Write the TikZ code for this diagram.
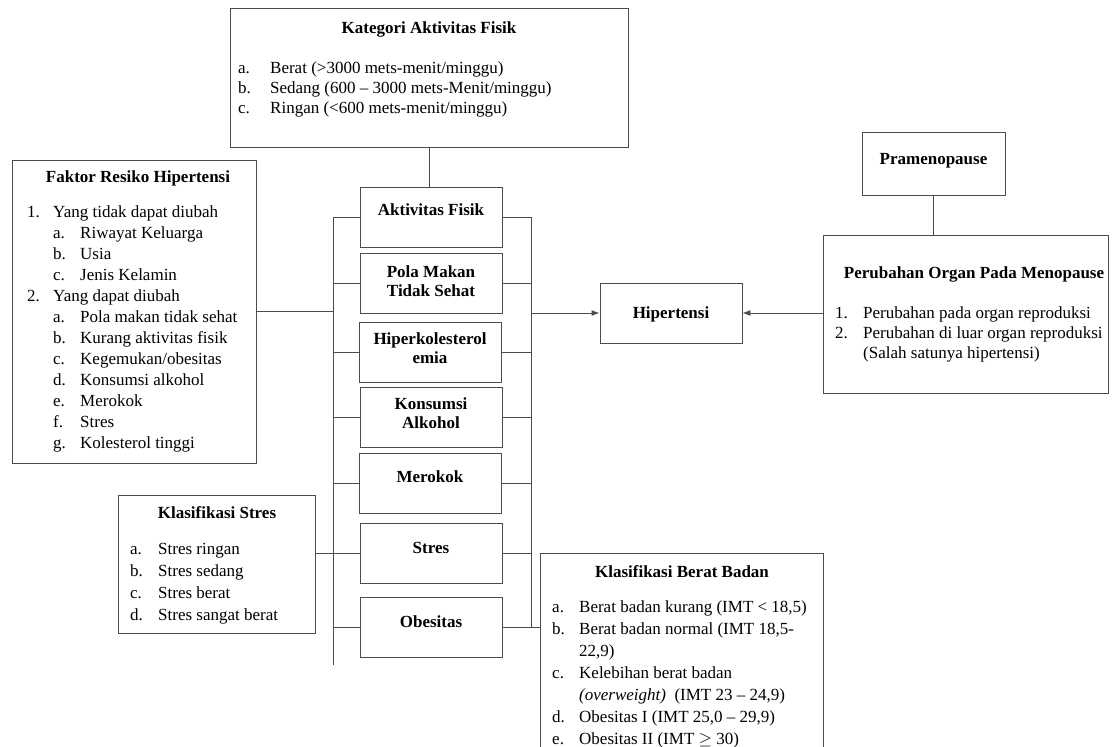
\documentclass[tikz,border=0pt]{standalone}
\usepackage{fontspec}
\setmainfont{Liberation Serif}
\usetikzlibrary{arrows.meta}
\begin{document}
\begin{tikzpicture}[x=1pt,y=-1pt,
  bx/.style={draw=black!70,line width=0.9pt,inner sep=0pt,minimum width=142pt,minimum height=60pt},
  ttl/.style={font=\fontsize{17}{20}\selectfont\bfseries,anchor=base,inner sep=0pt},
  ttl2/.style={font=\fontsize{17}{19}\selectfont\bfseries,anchor=center,inner sep=0pt,align=center},
  lst/.style={anchor=base west,inner sep=0pt,font=\fontsize{17}{20}\selectfont},
  con/.style={draw=black!70,line width=0.9pt},
  arr/.style={con,-{Latex[length=8pt,width=6pt]}}]
\useasboundingbox (0,0) rectangle (1112,747);
\setlength{\tabcolsep}{0pt}
% boxes
\node[bx,minimum width=398pt,minimum height=139pt] (kat) at (429,77.5) {};
\node[bx,minimum width=244pt,minimum height=303pt] (fak) at (134,311.5) {};
\node[bx] (akt) at (431,217) {};
\node[bx] (pola) at (431,283) {};
\node[bx] (hiper) at (430,352) {};
\node[bx] (kons) at (431,417) {};
\node[bx] (mer) at (430,483) {};
\node[bx] (stres) at (431,553) {};
\node[bx] (obes) at (431,627) {};
\node[bx] (hip) at (671,313) {};
\node[bx,minimum width=143pt,minimum height=63pt] (pra) at (933.5,163.5) {};
\node[bx,minimum width=285pt,minimum height=158pt] (per) at (965.5,314) {};
\node[bx,minimum width=197pt,minimum height=138pt] (kstres) at (216.5,564) {};
\node[bx,minimum width=283pt,minimum height=217pt] (kbb) at (681.5,661.5) {};
% titles
\node[ttl] (katt) at (429,33) {Kategori Aktivitas Fisik};
\node[ttl] (fakt) at (138,182) {Faktor Resiko Hipertensi};
\node[ttl] (pert) at (974,278) {Perubahan Organ Pada Menopause};
\node[ttl] (kstrest) at (217,518) {Klasifikasi Stres};
\node[ttl] (kbbt) at (682,577) {Klasifikasi Berat Badan};
\node[ttl] (aktt) at (431,215) {Aktivitas Fisik};
\node[ttl2] (polat) at (431,281) {Pola Makan\\Tidak Sehat};
\node[ttl2] (hipert) at (430,348) {Hiperkolesterol\\emia};
\node[ttl2] (konst) at (431,413) {Konsumsi\\Alkohol};
\node[ttl] (mert) at (430,482) {Merokok};
\node[ttl] (strest) at (431,553) {Stres};
\node[ttl] (obest) at (431,627) {Obesitas};
\node[ttl] (hipt) at (671,318) {Hipertensi};
\node[ttl] (prat) at (933.5,164) {Pramenopause};
% lists
\node[lst] (katl) at (238,73) {\begin{tabular}[t]{@{}p{32pt}@{}l@{}}
a. & Berat (>3000 mets-menit/minggu)\\
b. & Sedang (600 – 3000 mets-Menit/minggu)\\
c. & Ringan (<600 mets-menit/minggu)
\end{tabular}};
\node[lst,font=\fontsize{17}{21}\selectfont] (fakl) at (27,217) {\begin{tabular}[t]{@{}p{26pt}@{}p{27pt}@{}l@{}}
1. & \multicolumn{2}{@{}l@{}}{Yang tidak dapat diubah}\\
 & a. & Riwayat Keluarga\\
 & b. & Usia\\
 & c. & Jenis Kelamin\\
2. & \multicolumn{2}{@{}l@{}}{Yang dapat diubah}\\
 & a. & Pola makan tidak sehat\\
 & b. & Kurang aktivitas fisik\\
 & c. & Kegemukan/obesitas\\
 & d. & Konsumsi alkohol\\
 & e. & Merokok\\
 & f. & Stres\\
 & g. & Kolesterol tinggi
\end{tabular}};
\node[lst] (perl) at (835,318) {\begin{tabular}[t]{@{}p{28pt}@{}l@{}}
1. & Perubahan pada organ reproduksi\\
2. & Perubahan di luar organ reproduksi\\
 & (Salah satunya hipertensi)
\end{tabular}};
\node[lst,font=\fontsize{17}{22}\selectfont] (kstresl) at (130,554) {\begin{tabular}[t]{@{}p{28pt}@{}l@{}}
a. & Stres ringan\\
b. & Stres sedang\\
c. & Stres berat\\
d. & Stres sangat berat
\end{tabular}};
\node[lst,font=\fontsize{17}{22}\selectfont] (kbbl) at (552,612) {\begin{tabular}[t]{@{}p{27pt}@{}l@{}}
a. & Berat badan kurang (IMT < 18,5)\\
b. & Berat badan normal (IMT 18,5-\\
 & 22,9)\\
c. & Kelebihan berat badan\\
 & \textit{(overweight)}\ \ (IMT 23 – 24,9)\\
d. & Obesitas I (IMT 25,0 – 29,9)\\
e. & Obesitas II (IMT $\geq$ 30)
\end{tabular}};
% connectors
\coordinate (lt) at (333,217);
\coordinate (lb) at (333,665);
\coordinate (rt) at (531,217);
\coordinate (rb) at (531,627);
\draw[con] (kat.south) -- (kat.south |- akt.north);
\draw[con] (lt) -- (lb);
\draw[con] (rt) -- (rb);
\foreach \n in {akt,pola,hiper,kons,mer,stres,obes}{
  \draw[con] (\n.west -| lt) -- (\n.west);
  \draw[con] (\n.east) -- (\n.east -| rt);
}
\draw[con] (obes.east) -- (obes.east -| kbb.west);
\draw[con] (fak.east) -- (fak.east -| lt);
\draw[con] (stres.west -| kstres.east) -- (stres.west -| lt);
\draw[arr] (hip.west -| rt) -- (hip.west);
\draw[arr] (hip.east -| per.west) -- (hip.east);
\draw[con] (pra.south) -- (pra.south |- per.north);
\end{tikzpicture}
\end{document}
